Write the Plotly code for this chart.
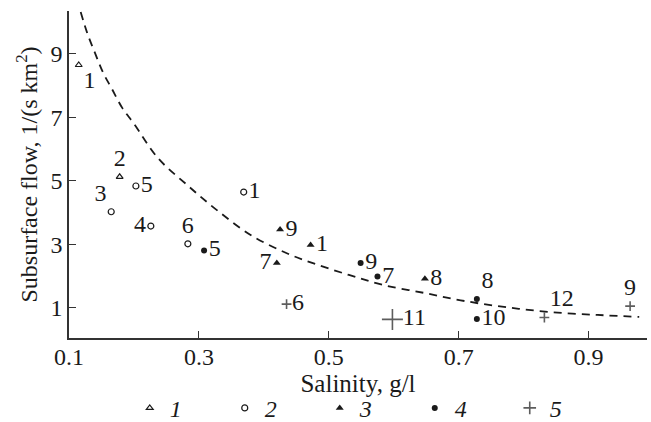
import plotly.graph_objects as go

# ---- data ----
s1_x = [0.115, 0.178]
s1_y = [8.65, 5.13]
s1_lab = ["1", "2"]

s2_x = [0.165, 0.226, 0.203, 0.283, 0.369]
s2_y = [4.03, 3.58, 4.84, 3.02, 4.65]
s2_lab = ["3", "4", "5", "6", "1"]

s3_x = [0.425, 0.472, 0.420, 0.648]
s3_y = [3.47, 2.98, 2.42, 1.92]
s3_lab = ["9", "1", "7", "8"]

s4_x = [0.308, 0.549, 0.575, 0.728, 0.728]
s4_y = [2.81, 2.42, 1.99, 1.28, 0.65]
s4_lab = ["5", "9", "7", "8", "10"]

s5_x = [0.435, 0.598, 0.832, 0.964]
s5_y = [1.12, 0.64, 0.70, 1.06]
s5_lab = ["6", "11", "12", "9"]

curve_x = [0.118, 0.128, 0.140, 0.152, 0.166, 0.182, 0.200, 0.237, 0.282, 0.329,
           0.382, 0.438, 0.466, 0.531, 0.585, 0.648, 0.709, 0.775, 0.842, 0.914, 0.978]
curve_y = [10.32, 9.66, 9.03, 8.43, 7.90, 7.30, 6.80, 5.72, 4.87, 4.06,
           3.27, 2.70, 2.48, 2.04, 1.72, 1.47, 1.22, 1.02, 0.87, 0.78, 0.72]

legend_names = ["<i>1</i>", "<i>2</i>", "<i>3</i>", "<i>4</i>", "<i>5</i>"]
x_ticks = [0.1, 0.3, 0.5, 0.7, 0.9]
y_ticks = [1, 3, 5, 7, 9]

FONT = "Liberation Serif, Times New Roman, serif"
INK = "#1a1a1a"

fig = go.Figure()

fig.add_trace(go.Scatter(
    x=curve_x, y=curve_y, mode="lines", line_shape="spline",
    line=dict(color=INK, width=1.8, dash="8px,6px"),
    showlegend=False, hoverinfo="skip"))

lab_font = dict(family=FONT, size=24, color=INK)

fig.add_trace(go.Scatter(
    x=s1_x, y=s1_y, mode="markers+text", text=s1_lab, name=legend_names[0],
    textposition=["bottom right", "top center"], textfont=lab_font,
    marker=dict(symbol="triangle-up-open", size=6, color=INK, line=dict(width=1.2))))

fig.add_trace(go.Scatter(
    x=s2_x, y=s2_y, mode="markers+text", text=s2_lab, name=legend_names[1],
    textposition=["top left", "middle left", "middle right", "top center", "middle right"],
    textfont=lab_font,
    marker=dict(symbol="circle-open", size=6, color=INK, line=dict(width=1.2))))

fig.add_trace(go.Scatter(
    x=s3_x, y=s3_y, mode="markers+text", text=s3_lab, name=legend_names[2],
    textposition=["middle right", "middle right", "middle left", "middle right"],
    textfont=lab_font,
    marker=dict(symbol="triangle-up", size=7, color=INK)))

fig.add_trace(go.Scatter(
    x=s4_x, y=s4_y, mode="markers+text", text=s4_lab, name=legend_names[3],
    textposition=["middle right", "middle right", "middle right", "top right", "middle right"],
    textfont=lab_font,
    marker=dict(symbol="circle", size=6, color=INK)))

fig.add_trace(go.Scatter(
    x=s5_x, y=s5_y, mode="markers+text", text=s5_lab, name=legend_names[4],
    textposition=["middle right", "middle right", "top right", "top center"],
    textfont=lab_font,
    marker=dict(symbol="cross-thin", size=[7, 15, 7, 7], color=INK,
                line=dict(width=1.6, color=INK))))

axis_common = dict(
    showgrid=False, zeroline=False, showline=True, linecolor="#333", linewidth=1.5,
    ticks="inside", ticklen=7, tickwidth=1.2, tickcolor="#333", automargin=False,
    tickfont=dict(family=FONT, size=24, color=INK),
)

fig.update_xaxes(
    range=[0.1, 0.99], tickvals=x_ticks, ticktext=[str(v) for v in x_ticks],
    ticklabelstandoff=-4,
    title=dict(text="Salinity, g/l", font=dict(family=FONT, size=25, color=INK), standoff=0),
    **axis_common)
fig.update_yaxes(
    range=[0.055, 10.35], tickvals=y_ticks, ticktext=[str(v) for v in y_ticks],
    title=dict(text="Subsurface flow, 1/(s km<sup>2</sup>)",
               font=dict(family=FONT, size=24, color=INK), standoff=6),
    **axis_common)

fig.update_layout(
    width=651, height=422,
    margin=dict(l=69, r=4, t=11, b=84, autoexpand=False),
    paper_bgcolor="white", plot_bgcolor="white",
    font=dict(family=FONT, size=24, color=INK),
    legend=dict(orientation="h", x=0.516, xanchor="center", y=-0.215, yanchor="middle",
                entrywidth=50, entrywidthmode="pixels", itemwidth=30,
                font=dict(family=FONT, size=24, color=INK), bgcolor="rgba(0,0,0,0)"),
)

fig.write_html("out.html")
